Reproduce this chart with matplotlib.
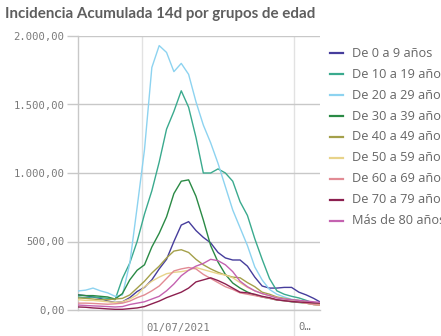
import matplotlib
matplotlib.use("Agg")
import matplotlib.pyplot as plt
import matplotlib.dates as mdates
import matplotlib.transforms as mtrans
from matplotlib.lines import Line2D
from matplotlib.ticker import FuncFormatter
import pandas as pd

# one reading every 3 days, starting 05/06/2021
dates = pd.date_range("2021-06-05", periods=34, freq="3D")

edad_0_9 = [110, 105, 95, 85, 65, 55, 60, 90, 135, 165, 220, 300, 370, 500, 620, 645, 580,
            530, 490, 420, 380, 365, 365, 320, 240, 175, 160, 160, 165, 165, 130, 110, 85, 55]
edad_10_19 = [95, 90, 95, 90, 85, 75, 230, 343, 500, 700, 870, 1080, 1320, 1450, 1600, 1480, 1260,
              1000, 1000, 1030, 1000, 940, 790, 690, 520, 370, 230, 140, 115, 100, 88, 70, 50, 40]
edad_20_29 = [139, 145, 160, 140, 125, 100, 110, 340, 750, 1170, 1770, 1930, 1880, 1740, 1800, 1720, 1520,
              1350, 1220, 1070, 900, 730, 600, 470, 314, 219, 150, 115, 95, 78, 70, 60, 50, 45]
edad_30_39 = [110, 105, 105, 100, 95, 80, 120, 220, 290, 330, 460, 560, 680, 850, 940, 950, 830,
              657, 470, 350, 260, 197, 160, 131, 110, 95, 85, 73, 68, 60, 55, 50, 40, 35]
edad_40_49 = [88, 85, 80, 75, 75, 80, 85, 110, 160, 210, 270, 320, 380, 430, 440, 420, 370,
              330, 300, 275, 255, 240, 235, 200, 170, 130, 115, 95, 85, 75, 70, 60, 52, 48]
edad_50_59 = [75, 70, 70, 65, 60, 55, 60, 80, 110, 170, 210, 240, 265, 275, 280, 290, 310,
              295, 280, 265, 255, 235, 200, 165, 140, 120, 105, 90, 80, 70, 60, 50, 40, 36]
edad_60_69 = [50, 50, 48, 45, 42, 45, 50, 65, 90, 110, 140, 175, 230, 285, 300, 310, 300,
              260, 230, 200, 170, 150, 125, 115, 105, 95, 85, 73, 68, 62, 58, 50, 40, 35]
edad_70_79 = [22, 20, 15, 12, 8, 5, 5, 10, 15, 25, 45, 65, 90, 110, 130, 160, 205,
              220, 235, 215, 190, 160, 130, 125, 115, 100, 90, 75, 68, 62, 58, 55, 52, 50]
edad_80 = [36, 33, 30, 28, 25, 22, 25, 40, 50, 60, 80, 100, 140, 190, 250, 290, 320,
           340, 370, 360, 330, 280, 210, 170, 140, 120, 105, 88, 80, 75, 70, 65, 60, 55]

labels = ["De 0 a 9 años", "De 10 a 19 años", "De 20 a 29 años", "De 30 a 39 años",
          "De 40 a 49 años", "De 50 a 59 años", "De 60 a 69 años", "De 70 a 79 años",
          "Más de 80 años"]
series = [edad_0_9, edad_10_19, edad_20_29, edad_30_39, edad_40_49,
          edad_50_59, edad_60_69, edad_70_79, edad_80]
colors = ["#463d9c", "#3aaa8e", "#8dd3f0", "#2a8a45", "#a4a04a",
          "#e8d38a", "#e28b94", "#8c1f4f", "#c462b0"]

yticks = [0, 500, 1000, 1500, 2000]
xticks = ["2021-07-01", "2021-09-01"]
xtick_labels = ["01/07/2021", "0…"]

W, H = 441, 336
fig = plt.figure(figsize=(W / 100, H / 100), dpi=100)
ax = fig.add_axes([78.3 / W, 1 - 310 / H, (320 - 78.3) / W, (310 - 36) / H])

for vals, col in zip(series, colors):
    ax.plot(dates, vals, color=col, lw=1.0, zorder=3)

x0 = mdates.date2num(pd.Timestamp("2021-06-05"))
ax.set_xlim(x0, x0 + 98.6)
ax.set_ylim(0, 2000)

ax.set_yticks(yticks)
ax.yaxis.set_major_formatter(FuncFormatter(
    lambda v, p: f"{v:,.2f}".replace(",", "X").replace(".", ",").replace("X", ".")))
ax.set_xticks([mdates.date2num(pd.Timestamp(d)) for d in xticks])
ax.set_xticklabels(xtick_labels, ha="left")

grey = "#c8c8c8"
ax.grid(axis="y", color=grey, lw=1.0, zorder=0)
ax.grid(axis="x", color="#e2e2e2", lw=1.0, zorder=0)
for s in ["top", "right"]:
    ax.spines[s].set_visible(False)
for s in ["left", "bottom"]:
    ax.spines[s].set_color(grey)
    ax.spines[s].set_linewidth(1.0)

ax.tick_params(axis="y", length=8, color=grey, width=1.0, pad=2,
               labelsize=7.6, labelcolor="#7a7a7a")
ax.tick_params(axis="x", length=20, color="#e2e2e2", width=1.0, pad=-11,
               labelsize=7.6, labelcolor="#7a7a7a")
for t in ax.get_yticklabels() + ax.get_xticklabels():
    t.set_family("DejaVu Sans Mono")
offset = mtrans.ScaledTranslation(4 / 100, 0, fig.dpi_scale_trans)
for t in ax.get_xticklabels():
    t.set_transform(t.get_transform() + offset)

fig.text(5 / W, 1 - 14 / H, "Incidencia Acumulada 14d por grupos de edad",
         family="Lato", weight="bold", fontsize=10.9, color="#5e5e5e", va="center")

# legend drawn by hand so it can run off the right edge like the original
for i, (lbl, col) in enumerate(zip(labels, colors)):
    y = 1 - (53.3 + 20.9 * i) / H
    fig.add_artist(Line2D([330 / W, 343 / W], [y, y], transform=fig.transFigure,
                          color=col, lw=1.6))
    fig.text(352 / W, y, lbl, family="Open Sans", fontsize=9.2, color="#666666", va="center")

fig.savefig("out.png", dpi=100)
